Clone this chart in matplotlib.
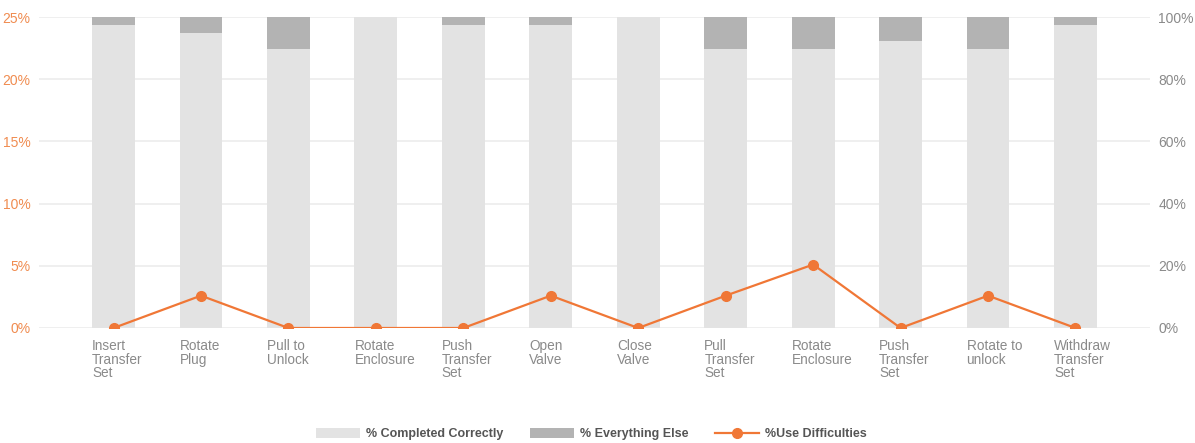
import matplotlib.pyplot as plt
import numpy as np

plt.rcParams['font.family'] = ['Liberation Sans', 'DejaVu Sans']

# task names, shown under each bar
tasks = ["Insert\nTransfer\nSet", "Rotate\nPlug", "Pull to\nUnlock", "Rotate\nEnclosure",
         "Push\nTransfer\nSet", "Open\nValve", "Close\nValve", "Pull\nTransfer\nSet",
         "Rotate\nEnclosure", "Push\nTransfer\nSet", "Rotate to\nunlock", "Withdraw\nTransfer\nSet"]

# percentages (right axis)
everything_else = [2.6, 5.1, 10.3, 0.0, 2.6, 2.6, 0.0, 10.3, 10.3, 7.7, 10.3, 2.6]
completed = [100 - v for v in everything_else]

# use difficulties (left axis)
use_difficulties = [0.0, 2.6, 0.0, 0.0, 0.0, 2.6, 0.0, 2.6, 5.1, 0.0, 2.6, 0.0]

light_gray = "#e3e3e3"
dark_gray = "#b3b3b3"
orange = "#f07736"
grid_col = "#ececec"
text_gray = "#8a8a8a"

fig = plt.figure(figsize=(11.95, 4.43), dpi=100)
ax = fig.add_axes([39 / 1195, 0.2596, 1111 / 1195, 0.702])

x = np.arange(len(tasks))
w = 0.49

# bars on the primary axes
ax.bar(x, completed, width=w, color=light_gray, zorder=2, label="% Completed Correctly")
ax.bar(x, everything_else, width=w, bottom=completed, color=dark_gray, zorder=2,
       label="% Everything Else")
ax.set_ylim(0, 100)
ax.grid(axis="y", color=grid_col, linewidth=1.2, zorder=0)
ax.set_axisbelow(True)
ax.set_xlim(-0.852, len(tasks) - 1 + 0.852)
ax.set_xticks(x - w / 2)
ax.set_xticklabels(tasks, ha="left", va="top", linespacing=0.95)
ax.tick_params(axis="x", length=0, pad=8, labelsize=9.8, labelcolor=text_gray)
for s in ax.spines.values():
    s.set_visible(False)

# line on a twin axes
ax2 = ax.twinx()
ax2.plot(x, use_difficulties, color=orange, linewidth=1.6, marker="o", markersize=7,
         zorder=3, label="%Use Difficulties")
ax2.set_ylim(0, 25)
for s in ax2.spines.values():
    s.set_visible(False)

# twinx moves the ticks around, so place them after it
ax.yaxis.tick_right()
ax.yaxis.set_label_position("right")
ax.set_yticks(np.arange(0, 101, 20))
ax.set_yticklabels([f"{v}%" for v in range(0, 101, 20)])
ax.tick_params(axis="y", length=0, pad=6, labelsize=10, labelcolor=text_gray)

ax2.yaxis.tick_left()
ax2.yaxis.set_label_position("left")
ax2.set_yticks(np.arange(0, 26, 5))
ax2.set_yticklabels([f"{v}%" for v in range(0, 26, 5)])
ax2.tick_params(axis="y", length=0, pad=6, labelsize=10, labelcolor="#f08c50")

h1, l1 = ax.get_legend_handles_labels()
h2, l2 = ax2.get_legend_handles_labels()
leg = fig.legend(h1 + h2, l1 + l2, loc="center", bbox_to_anchor=(0.495, 0.02),
                 ncol=3, frameon=False, fontsize=9, handlelength=3.5,
                 handleheight=0.9, columnspacing=2.1, handletextpad=0.5)
for t in leg.get_texts():
    t.set_color("#555555")
    t.set_fontweight("bold")

fig.savefig("out.png", dpi=100)
